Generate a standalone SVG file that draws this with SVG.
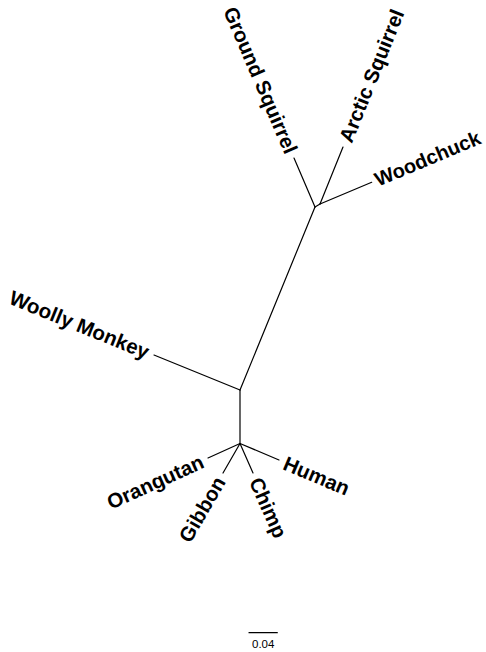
<svg xmlns="http://www.w3.org/2000/svg" width="486" height="652" viewBox="0 0 486 652">
<style>
.e{stroke:#000;stroke-width:1.2;fill:none;stroke-linecap:round}
.l{font-family:"Liberation Sans",Arial,sans-serif;font-weight:bold;font-size:20.5px;fill:#000}
.s{font-family:"Liberation Sans",Arial,sans-serif;font-size:11.5px;fill:#000}
</style>
<rect width="486" height="652" fill="#fff"/>
<g id="connectors">
<line class="e" x1="315" y1="207" x2="240" y2="390"/>
<line class="e" x1="315" y1="207" x2="320" y2="204"/>
<line class="e" x1="240" y1="390" x2="240" y2="443.5"/>
<line class="e" x1="315" y1="207" x2="294" y2="158"/>
<line class="e" x1="320" y1="204" x2="343" y2="147"/>
<line class="e" x1="320" y1="204" x2="371.7" y2="182.3"/>
<line class="e" x1="240" y1="390" x2="154" y2="355"/>
<line class="e" x1="240" y1="443.5" x2="208" y2="458"/>
<line class="e" x1="240" y1="443.5" x2="223" y2="473"/>
<line class="e" x1="240" y1="443.5" x2="253" y2="473"/>
<line class="e" x1="240" y1="443.5" x2="279" y2="460"/>
</g>
<g id="ground-squirrel"><text class="l" text-anchor="end" dy="0.35em" transform="translate(291.6,152.5) rotate(66.8)">Ground Squirrel</text></g>
<g id="arctic-squirrel"><text class="l" text-anchor="start" dy="0.35em" transform="translate(345.2,141.4) rotate(-68.1)">Arctic Squirrel</text></g>
<g id="woodchuck"><text class="l" text-anchor="start" dy="0.35em" style="font-size:20px" transform="translate(375.5,180.4) rotate(-22.8)">Woodchuck</text></g>
<g id="woolly-monkey"><text class="l" text-anchor="end" dy="0.35em" transform="translate(148.4,352.7) rotate(22.1)">Woolly Monkey</text></g>
<g id="orangutan"><text class="l" text-anchor="end" dy="0.35em" transform="translate(202.5,460.5) rotate(-24.4)">Orangutan</text></g>
<g id="gibbon"><text class="l" text-anchor="end" dy="0.35em" transform="translate(220,478.2) rotate(-60)">Gibbon</text></g>
<g id="chimp"><text class="l" text-anchor="start" dy="0.35em" transform="translate(255.4,478.5) rotate(66.2)">Chimp</text></g>
<g id="human"><text class="l" text-anchor="start" dy="0.35em" transform="translate(284.5,462.3) rotate(22.9)">Human</text></g>
<g id="scale-bar">
<line class="e" x1="249" y1="632.7" x2="277.3" y2="632.7" stroke-linecap="butt"/>
<text class="s" x="263.2" y="647.5" text-anchor="middle">0.04</text>
</g>
</svg>
